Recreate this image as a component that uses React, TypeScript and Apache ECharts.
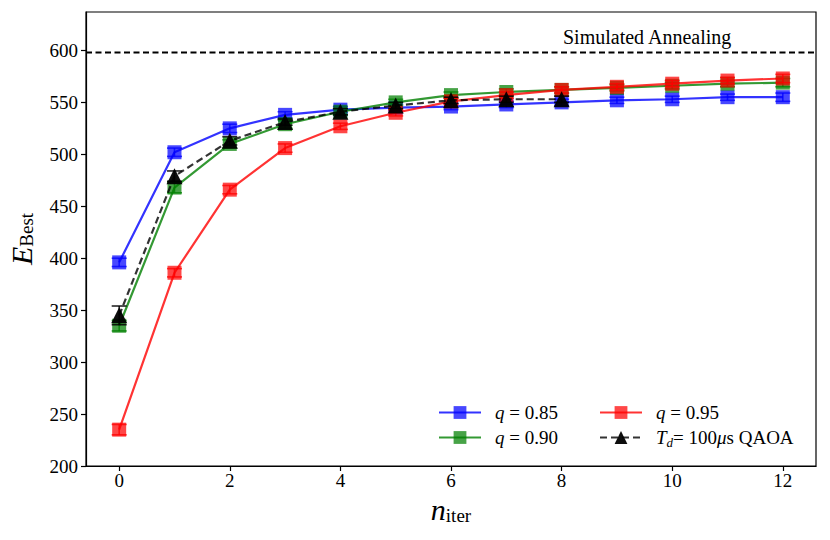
import React, { useEffect, useRef } from "react";
import * as echarts from "echarts";

const iterations = [0, 1, 2, 3, 4, 5, 6, 7, 8, 9, 10, 11, 12];
const q085 = [396, 502, 525, 538, 543, 545, 546, 548, 550, 552, 553, 555, 555];
const q090 = [335, 468, 510, 529, 541, 550, 557, 560, 562, 564, 566, 568, 569];
const q095 = [235, 386, 466, 506, 527, 540, 551, 557, 562, 565, 568, 571, 573];
const qaoa = [345, 479, 513, 531, 541, 547, 552, 553, 553];
const q085Err = [4, 4, 4, 3, 3, 3, 3, 3, 3, 3, 3, 3, 4];
const q090Err = [5, 5, 4, 4, 3, 3, 3, 3, 3, 3, 3, 3, 4];
const q095Err = [5, 4, 4, 4, 3, 3, 3, 3, 3, 3, 3, 3, 4];
const qaoaErr = [9, 5, 4, 3, 3, 3, 3, 3, 3];
const saLevel = 598;
const xTicks = [0, 2, 4, 6, 8, 10, 12];
const yTicks = [200, 250, 300, 350, 400, 450, 500, 550, 600];
const xRange = [-0.6, 12.6];
const yRange = [200, 637];

const FONT = "Liberation Serif";

const legendLabels: Record<string, string> = {
  "q=0.85": "{i|q}{r| = 0.85}",
  "q=0.90": "{i|q}{r| = 0.90}",
  "q=0.95": "{i|q}{r| = 0.95}",
  QAOA: "{i|T}{sub|d}{r|= 100}{i|μ}{r|s QAOA}",
};

function errSeries(name: string, vals: number[], errs: number[], color: string, opacity: number, z: number) {
  return {
    type: "custom",
    name: name + " err",
    z,
    clip: true,
    encode: { x: 0, y: 1 },
    data: vals.map((v, i) => [iterations[i], v, errs[i]]),
    renderItem: (params: any, api: any) => {
      const x = api.value(0);
      const y = api.value(1);
      const e = api.value(2);
      const top = api.coord([x, y + e]);
      const bot = api.coord([x, y - e]);
      const w = 7.5;
      const style = { stroke: color, lineWidth: 1.6, opacity };
      return {
        type: "group",
        children: [
          { type: "line", shape: { x1: top[0], y1: top[1], x2: bot[0], y2: bot[1] }, style },
          { type: "line", shape: { x1: top[0] - w, y1: top[1], x2: top[0] + w, y2: top[1] }, style },
          { type: "line", shape: { x1: bot[0] - w, y1: bot[1], x2: bot[0] + w, y2: bot[1] }, style },
        ],
      };
    },
  };
}

function lineSeries(name: string, vals: number[], color: string, symbol: string, size: number, dashed: boolean, z: number) {
  return {
    type: "line",
    name,
    z,
    data: vals.map((v, i) => [iterations[i], v]),
    symbol,
    symbolSize: size,
    showSymbol: true,
    itemStyle: { color, opacity: dashed ? 0.95 : 0.72 },
    lineStyle: { color, width: 2.2, opacity: 0.8, type: dashed ? [7, 4] : "solid" },
    emphasis: { disabled: true },
  };
}

export default function App() {
  const ref = useRef<HTMLDivElement>(null);
  useEffect(() => {
    if (!ref.current) return;
    const chart = echarts.init(ref.current, undefined, { renderer: "svg" });
    const legendText = {
      fontFamily: FONT,
      fontSize: 19,
      color: "#000",
      padding: [0, 0, 0, 9],
      rich: {
        r: { fontFamily: FONT, fontSize: 19, color: "#000" },
        i: { fontFamily: FONT, fontSize: 19, fontStyle: "italic", color: "#000" },
        sub: { fontFamily: FONT, fontSize: 13, fontStyle: "italic", color: "#000", padding: [10, 0, 0, 0] },
      },
    };
    const legendCommon = {
      orient: "vertical",
      top: 398,
      itemWidth: 42,
      itemHeight: 16,
      itemGap: 6,
      selectedMode: false,
      formatter: (name: string) => legendLabels[name] || name,
      textStyle: legendText,
    };
    const tickRich = { t: { fontFamily: FONT, fontSize: 19, color: "#000" } };
    chart.setOption({
      animation: false,
      textStyle: { fontFamily: FONT, color: "#000" },
      grid: {
        left: 86,
        right: 14,
        top: 12,
        bottom: 74,
        show: true,
        borderColor: "#000",
        borderWidth: 1.2,
        backgroundColor: "transparent",
        containLabel: false,
        outerBoundsMode: "none",
      },
      legend: [
        { ...legendCommon, left: 433, data: ["q=0.85", "q=0.90"] },
        { ...legendCommon, left: 594, data: ["q=0.95", "QAOA"] },
      ],
      xAxis: {
        type: "value",
        min: xRange[0],
        max: xRange[1],
        axisLine: { show: true, onZero: false, lineStyle: { color: "#000", width: 1.2 } },
        axisTick: { show: true, inside: false, length: 5, customValues: xTicks, lineStyle: { color: "#000", width: 1.2 } },
        axisLabel: {
          customValues: xTicks,
          color: "#000",
          fontFamily: FONT,
          fontSize: 19,
          margin: 5,
          formatter: (v: number) => `{t|${v}}`,
          rich: tickRich,
        },
        splitLine: { show: false },
        name: "{n|n}{s|iter}",
        nameLocation: "middle",
        nameGap: 28,
        nameTextStyle: {
          rich: {
            n: { fontFamily: FONT, fontSize: 30, fontStyle: "italic", color: "#000" },
            s: { fontFamily: FONT, fontSize: 19, color: "#000", padding: [12, 0, 0, 0] },
          },
        },
      },
      yAxis: {
        type: "value",
        min: yRange[0],
        max: yRange[1],
        axisLine: { show: true, onZero: false, lineStyle: { color: "#000", width: 1.2 } },
        axisTick: { show: true, inside: false, length: 5, customValues: yTicks, lineStyle: { color: "#000", width: 1.2 } },
        axisLabel: {
          customValues: yTicks,
          color: "#000",
          fontFamily: FONT,
          fontSize: 19,
          margin: 8,
          formatter: (v: number) => `{t|${v}}`,
          rich: tickRich,
        },
        splitLine: { show: false },
        name: "{e|E}{s|Best}",
        nameLocation: "middle",
        nameRotate: 90,
        nameGap: 50,
        nameTextStyle: {
          rich: {
            e: { fontFamily: FONT, fontSize: 30, fontStyle: "italic", color: "#000" },
            s: { fontFamily: FONT, fontSize: 19, color: "#000", padding: [10, 0, 0, 0] },
          },
        },
      },
      graphic: [
        {
          type: "text",
          left: 563,
          top: 27,
          style: { text: "Simulated Annealing", fontFamily: FONT, fontSize: 20, fill: "#000" },
          z: 100,
        },
      ],
      series: [
        {
          type: "line",
          name: "SA",
          data: [[xRange[0], saLevel], [xRange[1], saLevel]],
          symbol: "none",
          lineStyle: { color: "#000", width: 1.8, type: [6, 3.5] },
          z: 1,
          emphasis: { disabled: true },
        },
        errSeries("q=0.85", q085, q085Err, "#0000ff", 0.75, 2),
        lineSeries("q=0.85", q085, "#0000ff", "rect", 14, false, 2),
        errSeries("q=0.90", q090, q090Err, "#008000", 0.75, 3),
        lineSeries("q=0.90", q090, "#008000", "rect", 14, false, 3),
        errSeries("q=0.95", q095, q095Err, "#ff0000", 0.75, 4),
        lineSeries("q=0.95", q095, "#ff0000", "rect", 14, false, 4),
        errSeries("QAOA", qaoa, qaoaErr, "#000000", 0.85, 5),
        lineSeries("QAOA", qaoa, "#000000", "triangle", 16, true, 5),
      ],
    });
    return () => chart.dispose();
  }, []);
  return (
    <div
      ref={ref}
      style={{ position: "fixed", left: 0, top: 0, width: 830, height: 540, background: "#fff" }}
    />
  );
}
